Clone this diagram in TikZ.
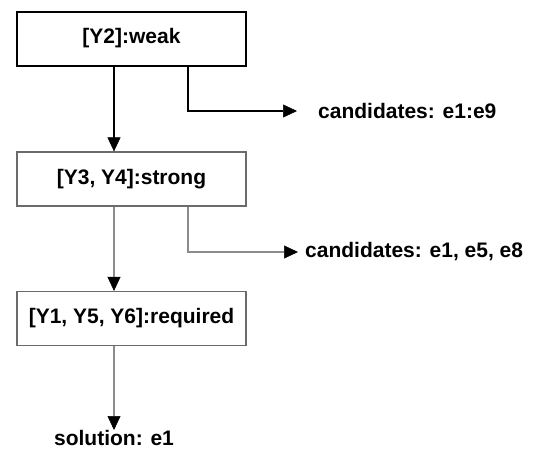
\documentclass[tikz,border=0pt]{standalone}
\usepackage{fontspec}
\setmainfont{Liberation Sans}
\usepackage{tikz}
\usetikzlibrary{arrows.meta}
\definecolor{boxgrey}{rgb}{0.42,0.42,0.42}
\definecolor{wiregrey}{rgb}{0.55,0.55,0.55}

\begin{document}
\begin{tikzpicture}[x=1pt, y=-1pt, font=\fontsize{21}{25}\selectfont\bfseries,
		levelbox/.style={draw=boxgrey, line width=1.2pt, minimum width=229pt, minimum height=54pt, inner sep=0},
		wire/.style={draw=wiregrey, line width=1.3pt, -{Triangle[length=14pt, width=13pt, color=black, fill=black, line width=0.5pt]}}]
			\useasboundingbox (0,0) rectangle (544,450);
			% Paths, nodes and wires:
			\node[levelbox, draw=black, line width=2pt](Weak) at (131.5, 38.5){[Y2]:weak};
			\node[levelbox](Strong) at (131.5, 179){[Y3, Y4]:strong};
			\node[levelbox](Required) at (131.5, 318.5){[Y1, Y5, Y6]:required};
			\node[anchor=west, inner sep=0](Cand1) at (318, 111){candidates: e1:e9};
			\node[anchor=west, inner sep=0](Cand2) at (305, 252){candidates: e1, e5, e8};
			\node[anchor=north, inner sep=0](Solution) at (114, 430){solution: e1};
			\draw[wire, draw=black, line width=1.8pt] ([xshift=-17.5pt]Weak.south) -- ([xshift=-17.5pt]Strong.north);
			\draw[wire, draw=black, line width=1.8pt] ([xshift=56.5pt]Weak.south) |- ([xshift=-21pt]Cand1.west);
			\draw[wire] ([xshift=-17.5pt]Strong.south) -- ([xshift=-17.5pt]Required.north);
			\draw[wire] ([xshift=56.5pt]Strong.south) |- ([xshift=-7pt]Cand2.west);
			\draw[wire] ([xshift=-17.5pt]Required.south) -- (Solution.north);
		\end{tikzpicture}
\end{document}
